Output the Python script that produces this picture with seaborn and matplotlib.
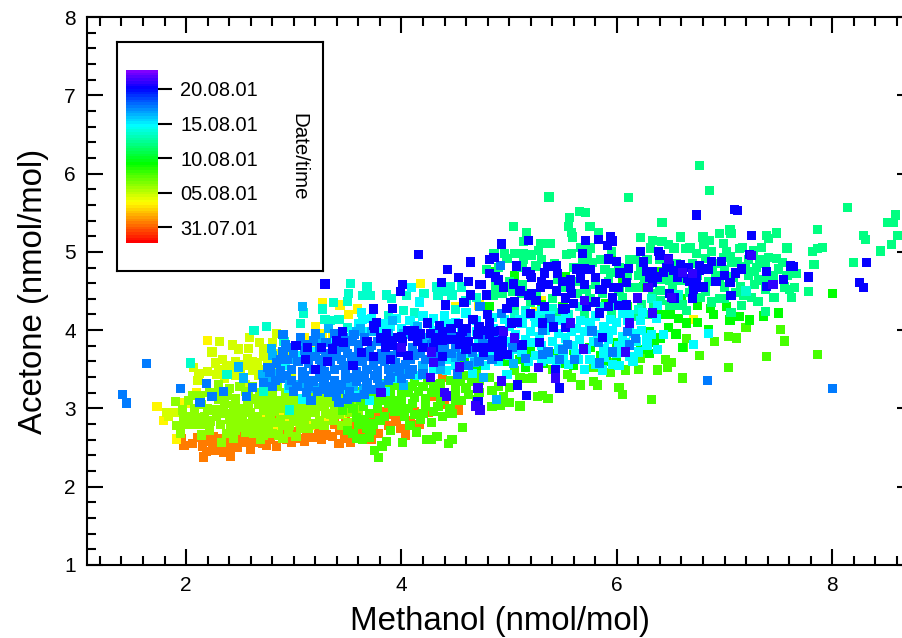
import numpy as np
import pandas as pd
import matplotlib
matplotlib.use("Agg")
import matplotlib.pyplot as plt
import seaborn as sns
from matplotlib.colors import LinearSegmentedColormap, Normalize
from matplotlib.cm import ScalarMappable
from matplotlib.ticker import MultipleLocator

sns.set_theme(style="white")
plt.rcParams['font.family'] = ['Liberation Sans', 'DejaVu Sans']

# days after 31.07.01, (methanol, acetone)
orange = [(1.96,2.61),(1.98,2.53),(2.16,2.38),(2.19,2.45),(2.41,2.39),(2.11,2.63),(2.25,2.64),(2.25,2.55),(2.27,2.47),
    (2.39,2.5),(2.48,2.5),(2.55,2.56),(2.64,2.56),(2.71,2.55),(2.53,2.65),(2.7,2.63),(2.87,2.87),(2.89,2.78),(3.06,2.62),
    (3.42,2.55),(3.53,2.57),(4.04,2.66),(3.99,2.74),(3.79,2.68),(4.17,2.79),(4.53,2.98),(4.31,3.15),(4.38,3.4),(4.55,3.4),
    (3.92,2.92),(3.85,2.96),(3.64,2.72),(3.43,2.72),(3.23,2.72),(2.2,2.58),(2.31,2.62),(2.35,2.44),(2.45,2.57),(2.6,2.48),
    (2.78,2.6),(2.84,2.52),(2.93,2.6),(3.0,2.7),(3.12,2.68),(3.3,2.66),(3.38,2.8),(3.55,2.78),(3.7,2.85),(3.78,2.9),
    (3.95,2.83),(4.08,2.85),(4.25,2.95),(4.4,3.05),(3.1,2.58),(2.06,2.55),(2.15,2.52),(3.6,2.92),(3.48,2.88),
    (2.22,2.67),(2.3,2.52),(2.37,2.58),(2.42,2.66),(2.5,2.61),(2.58,2.62),(2.66,2.66),(2.75,2.53),(2.81,2.65),(2.9,2.68),
    (2.98,2.56),(3.18,2.63),(3.26,2.6),(3.36,2.64),(3.47,2.62),(3.6,2.67),(3.72,2.6),(3.88,2.78),(4.0,2.9),(4.12,2.96)]
yellow = [(2.2,3.87),(1.73,3.02),(1.79,2.85),(1.91,2.61),(1.99,3.07),(2.1,3.2),(3.27,4.35),(3.2,4.04),(3.27,3.96),(3.36,3.94),
    (3.43,4.32),(3.51,4.2),(3.59,4.27),(4.18,4.6),(6.71,4.14),(2.72,2.86),(2.82,2.72),(2.95,2.85),(3.05,2.82),(3.15,2.78),
    (3.3,2.88),(3.45,2.92),(2.62,2.78),(2.9,2.95),(3.1,3.9),(3.18,3.78),(4.5,4.3),(4.72,4.32),(5.3,4.38),(5.25,4.24)]
yellow_green = [(2.31,3.85),(2.43,3.81),(2.49,3.76),(2.58,3.77),(2.24,3.72),(2.59,3.91),(2.68,3.84),(2.84,3.96),(2.72,3.67),
    (2.57,3.64),(2.62,3.6),(2.27,3.58),(2.34,3.63),(2.38,3.55),(2.43,3.53),(2.07,3.52),(2.12,3.45),(2.11,3.36),(2.87,3.7),
    (2.76,3.56),(2.62,3.48),(1.82,2.95),(1.9,2.95),(1.84,2.9),(2.3,3.5),(2.5,3.47),(2.58,3.55),(2.67,3.42),(2.84,3.5),
    (2.92,3.62),(2.98,3.72),(2.46,3.42),(2.36,3.38),(2.76,3.32),(2.55,3.3),(2.98,3.42),(2.46,3.6),(2.52,3.56),(2.66,3.58),
    (2.7,3.5),(2.8,3.62),(2.42,3.46),(2.28,3.43),(2.2,3.47),(2.72,3.76),(2.8,3.84)]
lime = [(1.9,3.09),(1.97,2.98),(2.08,3.0),(1.91,2.78),(1.99,2.79),(2.07,2.8),(2.15,2.79),(2.1,2.88),(2.17,2.9),(2.23,2.84),
    (2.32,2.79),(2.41,2.79),(2.14,2.66),(2.33,2.56),(2.44,2.62),(2.13,3.17),(2.22,3.2),(2.2,3.0),(2.36,3.07),(2.33,2.94),
    (2.42,2.93),(2.28,2.9),(2.48,2.88),(2.55,2.8),(2.66,2.75),(2.69,2.6),(2.7,2.83),(2.78,2.92),(2.86,2.66),(2.95,2.7),
    (2.5,3.0),(2.6,2.95),(2.67,3.05),(2.75,3.02),(2.85,3.1),(2.93,3.03),(3.02,2.96),(3.1,3.03),(3.2,2.95),(3.28,3.02),
    (3.38,2.98),(3.46,3.05),(2.46,3.12),(2.58,3.15),(2.68,3.2),(2.8,3.18),(2.92,3.2),(3.04,3.12),(3.16,3.14),(3.28,3.12),
    (3.02,2.83),(3.12,2.9),(3.24,2.85),(3.37,2.85),(2.63,2.68),(2.76,2.72),(2.82,2.82),(2.95,2.92),(2.4,3.25),(2.5,3.28),
    (2.3,3.3),(2.85,3.28),(2.98,3.26),(3.12,3.22),(1.98,2.9),(2.02,3.1),(2.55,2.7),(2.9,2.62),(3.02,2.64),(3.14,2.74),
    (1.95,2.68),(3.5,2.82),(3.6,2.98),(3.55,3.1),(2.72,2.98),(3.4,3.18),
    (2.26,2.98),(2.3,3.12),(2.38,3.17),(2.44,3.03),(2.52,2.92),(2.57,3.07),(2.62,2.86),(2.64,3.12),(2.72,3.1),(2.78,2.82),
    (2.8,3.08),(2.88,3.0),(2.9,2.78),(2.98,3.1),(3.04,3.04),(3.08,2.86),(3.13,2.96),(3.17,3.06),(3.22,3.1),(3.3,2.94),
    (3.34,3.08),(3.42,2.92),(3.48,3.14),(3.52,2.95),(2.4,2.86),(2.46,2.72),(2.5,2.84),(2.58,2.76),(2.66,2.9),(2.74,2.78),
    (2.82,2.96),(2.96,2.78),(3.06,2.74),(3.1,2.8),(3.2,2.8),(3.28,2.78),(3.34,2.92),(2.38,2.68),(2.52,2.76),(2.22,2.72),
    (2.06,2.9),(2.14,3.05),(2.06,3.17),(2.28,3.2),(2.55,3.22),(2.62,3.28),(2.75,3.26),(2.92,3.12),(3.2,3.02),(3.36,3.14),
    (2.8,2.68),(2.72,2.66),(3.0,2.9),(3.44,2.78),(2.35,2.98),(2.46,2.96),(2.58,3.0),(2.88,2.86),(3.06,2.92),(3.14,3.1)]
green_lime = [(3.79,2.37),(3.75,2.46),(3.82,2.52),(3.86,2.58),(3.64,2.61),(3.58,2.62),(3.7,2.63),(4.01,2.56),(4.14,2.7),(4.23,2.6),
    (4.28,2.6),(4.33,2.64),(4.47,2.6),(4.44,2.55),(4.57,2.76),(3.5,2.72),(3.55,2.68),(3.68,2.74),(3.74,2.8),(3.9,2.72),
    (3.45,2.98),(3.55,3.0),(3.66,2.86),(3.65,3.02),(3.78,3.0),(3.88,3.06),(3.98,2.98),(4.06,3.0),(4.12,2.92),(4.22,3.02),
    (4.3,2.96),(4.12,3.14),(4.0,3.1),(3.9,3.18),(4.22,3.12),(4.36,3.1),(4.45,3.0),(4.44,3.16),(4.56,3.1),(4.62,3.18),
    (4.7,3.11),(4.84,3.23),(4.92,3.04),(5.0,3.08),(5.1,3.03),(5.26,3.15),(5.31,3.17),(5.36,3.13),(5.0,3.27),(5.1,3.39),
    (5.22,3.39),(5.18,3.38),(5.54,3.43),(5.58,3.4),(5.66,3.3),(5.78,3.34),(5.82,3.3),(6.02,3.27),(6.05,3.18),(6.32,3.11),
    (6.61,3.39),(6.38,3.49),(6.2,3.5),(6.08,3.49),(5.94,3.46),(5.78,3.52),(5.96,3.59),(6.22,3.64),(6.45,3.62),(6.51,3.59),
    (6.47,3.52),(6.77,3.68),(7.04,3.52),(7.39,3.66),(7.86,3.69),(7.56,3.86),(7.52,4.01),(7.2,4.03),(7.11,3.9),(7.04,3.92),
    (6.91,3.85),(6.65,3.89),(6.62,3.78),(4.6,3.42),(4.72,3.36),(4.82,3.4),(4.9,3.28),(4.84,3.02),(5.05,3.48),(5.4,3.5),
    (4.2,3.28),(4.3,3.3),(4.1,3.28),(3.96,3.3),(3.84,3.32),(4.5,3.3),(3.72,3.12),(3.62,3.22),(3.8,2.85),(4.95,3.15),
    (3.58,2.88),(3.7,2.94),(3.84,2.9),(3.94,2.96),(4.03,2.9),(4.18,2.86),(4.28,2.82),(4.38,2.9),(4.47,2.94),(3.52,3.06),
    (3.62,3.1),(3.8,3.1),(3.94,3.1),(4.06,3.2),(4.16,3.22),(4.28,3.2),(4.36,3.2),(4.5,3.2),(4.6,3.26),(4.72,3.2),
    (3.68,3.2),(3.78,3.22),(3.88,3.26),(4.0,3.22),(4.12,3.34),(4.24,3.36),(4.36,3.32),(4.46,3.36),(4.55,3.34),(4.7,3.44),
    (3.92,3.0),(4.1,3.06),(4.34,3.02),(4.5,3.1),(4.08,2.78),(3.72,2.72),(3.6,2.8),(4.2,2.94),(3.86,3.12),(4.65,3.34)]
green = [(6.61,3.78),(6.65,4.09),(6.57,4.15),(6.48,4.03),(6.28,3.78),(6.35,3.84),(6.22,3.75),(6.0,3.84),(6.85,4.01),(7.05,4.13),
    (7.23,4.13),(7.14,4.17),(7.36,4.18),(7.5,4.22),(6.87,4.28),(8.0,4.47),(6.65,4.09),(6.9,4.2),(7.02,4.3),(6.75,4.32),
    (5.2,3.72),(5.42,3.7),(5.6,3.74),(5.75,3.78),(5.1,3.62),(4.96,3.6),(5.85,3.68),(6.05,3.72),(6.3,3.98),(6.42,4.2),
    (5.3,4.32),(5.5,4.3),(5.9,4.34),(6.1,4.3),(4.82,4.3),(4.7,3.55),(4.58,3.58),(5.6,3.55),(5.9,3.6),(6.6,4.4),
    (4.86,4.75),(5.05,4.7),(5.3,4.62),(5.52,4.68),(5.95,4.9),(6.05,4.62),(6.25,4.55),(6.4,4.75),
    (5.15,3.52),(5.32,3.58),(5.5,3.58),(5.75,3.62),(6.0,3.62),(6.3,3.7),(6.4,3.9),(6.55,3.95),(6.5,4.2),(6.75,4.1)]
spring = [(6.77,6.1),(6.86,5.78),(8.14,5.57),(7.86,5.29),(8.51,5.37),(8.59,5.47),(8.57,5.38),(8.29,5.21),(8.31,5.16),(8.61,5.21),
    (8.55,5.09),(8.45,5.01),(8.2,4.86),(7.91,5.06),(7.86,5.04),(7.82,5.0),(7.83,4.84),(7.78,4.49),(7.58,5.05),(7.48,5.24),
    (7.39,5.21),(7.41,5.17),(7.05,5.28),(7.06,5.23),(6.95,5.23),(6.8,5.19),(6.86,5.15),(6.99,5.11),(6.81,5.09),(6.64,5.04),
    (6.68,5.05),(6.74,4.98),(6.88,5.0),(7.14,5.04),(7.17,5.06),(7.34,5.06),(7.27,5.02),(7.41,4.93),(7.48,4.92),(7.54,4.86),
    (7.33,4.9),(6.99,4.93),(7.05,4.94),(7.12,4.87),(7.07,4.86),(7.19,4.81),(6.89,4.77),(7.0,4.77),(7.67,4.72),(7.63,4.73),
    (7.3,4.8),(7.45,4.7),(7.41,4.67),(7.32,4.64),(7.56,4.55),(7.6,4.52),(7.65,4.54),(7.62,4.42),(7.46,4.42),(7.31,4.37),
    (7.25,4.42),(7.16,4.31),(7.06,4.23),(7.38,4.24),(5.37,5.7),(6.11,5.69),(5.04,5.32),(5.16,5.25),(5.56,5.44),(5.65,5.52),
    (5.71,5.5),(5.55,5.32),(5.75,5.32),(5.58,5.25),(5.59,5.19),(5.83,5.25),(6.42,5.37),(6.22,5.18),(6.33,5.15),(6.59,5.19),
    (6.42,5.13),(6.48,5.09),(6.53,5.05),(6.64,5.04),(5.38,5.11),(5.29,5.11),(5.13,5.13),(5.27,5.02),(5.21,4.96),(5.13,4.98),
    (5.05,4.98),(4.96,4.98),(4.86,4.98),(4.98,4.92),(5.13,4.9),(4.79,4.77),(5.25,4.82),(5.53,4.97),(5.58,4.98),(5.73,4.98),
    (5.68,4.9),(5.77,4.86),(5.66,5.06),(5.75,5.05),(5.7,5.0),(6.31,5.05),(6.17,4.9),(6.12,4.9),(6.22,4.79),(6.2,4.7),
    (6.26,4.65),(6.42,4.65),(6.49,4.64),(6.59,4.63),(5.89,4.77),(5.94,4.74),(6.12,4.54),(6.19,4.54),(6.4,4.51),(6.33,4.47),
    (6.49,4.32),(6.61,4.32),(6.55,4.32),(6.34,4.32),(6.23,4.32),(4.94,4.47),(4.85,4.45),(5.12,4.47),(5.63,4.47),(5.87,4.47),
    (5.03,4.5),(4.87,4.55),(5.12,4.58),(6.7,4.6),(6.82,4.5),(6.95,4.62),(6.65,4.25),(6.3,4.2),(6.15,4.18),(5.95,4.2),
    (5.7,4.2),(5.45,4.22),(5.2,4.35),(5.05,4.3),(5.4,4.4),(5.75,4.4),(6.05,4.42),(6.75,4.7),(7.1,4.48),(6.95,4.4),
    (5.2,4.75),(5.42,4.85),(5.6,4.8),(5.95,5.0),(6.02,4.8),(6.4,4.9),(6.55,4.85),(6.7,4.85),
    (6.85,4.62),(6.92,4.7),(7.0,4.55),(7.08,4.68),(7.15,4.56),(7.22,4.7),(7.28,4.58),(7.38,4.52),(6.78,4.42),(6.88,4.36),
    (7.0,4.4),(7.18,4.45),(6.96,4.85),(7.02,5.0),(7.22,4.9),(7.28,4.75),(7.38,4.85),(7.5,4.78),(7.58,4.7),(6.82,4.92),
    (5.5,4.55),(5.62,4.62),(5.8,4.58),(5.92,4.62),(6.1,4.7),(6.3,4.6),(6.52,4.55),(6.02,4.5),(5.72,4.52),(5.25,4.45),
    (5.3,4.9),(5.45,4.65),(5.0,4.62),(4.9,4.8),(5.12,4.8),(5.85,4.9),(6.28,4.9),(6.5,4.72),(6.68,4.48),(6.4,4.38)]
teal = [(3.53,4.6),(3.68,4.55),(3.51,4.47),(3.71,4.44),(3.64,4.44),(3.5,4.37),(3.86,4.45),(3.91,4.4),(4.05,4.44),(4.21,4.47),
    (3.37,4.35),(3.27,4.27),(3.09,4.22),(3.06,4.08),(3.29,4.14),(3.34,4.12),(3.42,4.14),(3.5,4.03),(4.33,4.55),(4.34,4.45),
    (4.56,4.55),(4.47,4.45),(4.5,4.26),(2.63,4.0),(2.75,4.05),(2.04,3.58),(2.38,3.43),(2.91,3.85),(2.96,2.98),(4.38,4.5),
    (4.6,4.38),(4.02,4.25),(3.88,4.18),(4.12,4.22),(6.57,4.45),(7.2,4.5),(6.32,4.4),(5.55,4.2),(5.3,4.18),(5.05,4.2),
    (4.7,4.42),(3.1,3.3),(2.72,3.22),(4.45,4.55),(5.85,4.3),(6.0,4.32),(6.2,4.26),(5.65,4.3),(5.4,4.28),(5.15,4.25)]
cyan = [(4.09,4.54),(4.17,4.36),(3.63,4.23),(6.85,3.96),(6.71,3.82),(4.98,3.43),(5.87,3.49),(6.38,3.75),(6.43,3.94),(6.32,3.94),
    (6.23,4.0),(6.37,4.15),(6.24,4.23),(6.38,4.31),(4.66,3.45),(4.78,3.55),(4.9,3.6),(5.0,3.68),(5.12,3.72),(5.25,3.68),
    (5.38,3.62),(5.5,3.66),(5.62,3.7),(5.75,3.62),(5.88,3.65),(6.0,3.7),(6.12,3.66),(4.62,3.7),(4.75,3.72),(4.88,3.78),
    (5.02,3.85),(5.15,3.88),(5.28,3.92),(5.4,3.85),(5.52,3.9),(5.65,3.88),(5.78,3.85),(5.92,3.88),(6.05,3.92),(6.18,3.85),
    (6.28,3.8),(4.55,3.92),(4.7,3.98),(4.85,4.02),(5.0,4.05),(5.12,4.08),(5.25,4.1),(5.38,4.05),(5.5,4.12),(5.62,4.02),
    (5.75,4.1),(5.88,4.05),(6.0,4.1),(6.12,4.02),(6.22,4.12),(5.15,4.2),(5.3,4.25),(5.45,4.12),(5.7,3.98),(5.9,3.95),
    (4.4,4.18),(4.5,4.1),(4.6,4.22),(4.3,4.15),(4.2,4.18),(4.08,4.12),(3.95,4.15),(3.85,4.08),(3.72,4.15),(3.6,4.08),
    (3.55,3.98),(3.68,3.98),(3.82,4.0),(4.0,4.02),(4.15,3.98),(4.3,4.0),(4.45,4.0),(3.48,3.9),(3.38,3.88),(3.2,3.72),
    (3.05,3.68),(2.92,3.55),(2.82,3.42),(4.45,3.62),(4.55,3.75),(4.42,3.48),(3.7,3.1),(3.6,3.18),(3.85,3.22),(3.95,3.38),
    (2.95,3.25),(3.08,3.12),(3.5,3.18),(4.15,3.42),(4.3,3.5),(4.5,3.55),(5.55,3.56),(5.7,3.5),(6.02,3.55),(6.15,3.6),(6.05,4.22),
    (4.72,3.86),(4.82,3.9),(4.94,3.95),(5.06,3.94),(5.2,3.98),(5.34,4.0),(5.46,3.96),(5.58,3.98),(5.82,3.94),(5.96,4.0),
    (6.1,4.12),(6.16,3.96),(6.28,3.9),(6.02,3.8),(5.88,3.76),(5.72,3.75),(5.6,3.8),(5.46,3.76),(5.3,3.8),(5.2,3.84),
    (5.08,3.76),(4.95,3.84),(4.84,3.68),(4.7,3.64),(5.18,3.6),(5.3,3.6),(5.44,3.58),(5.64,3.62),(5.8,3.56),(5.96,3.56),
    (6.08,3.84),(6.2,3.72),(5.1,4.14),(5.24,4.18),(5.38,4.18),(5.52,4.22),(5.66,4.12),(5.8,4.18),(5.94,4.14),(6.12,4.2),
    (4.96,4.14),(4.84,4.16),(4.7,4.12),(4.56,4.02),(4.42,4.08),(4.26,4.08),(4.12,4.06),(3.9,4.05),(3.78,4.08),(3.64,4.14)]
sky = [(3.08,4.3),(2.79,3.77),(2.8,3.68),(2.71,3.43),(2.76,3.4),(2.49,3.53),(2.53,3.39),(3.32,4.02),(3.58,3.98),(3.62,4.02),
    (4.02,3.3),(3.65,3.25),(3.55,3.28),(3.8,3.3),(3.9,3.45),(4.05,3.5),(3.5,3.3),(2.96,3.3),(3.05,3.3),(3.2,3.26),
    (4.2,3.55),(4.36,3.5),(4.5,3.65),(4.76,3.4),(4.88,3.11),(5.04,3.57),(4.68,3.59),(4.3,3.95),(4.15,4.05),(3.92,4.12),
    (3.42,3.96),(3.72,3.98),(3.88,3.95),(4.02,3.95),(4.22,3.9),(4.5,3.85),(3.25,3.9),(3.1,3.82),(2.98,3.62),(2.86,3.45)]
azure = [(1.41,3.18),(1.45,3.07),(1.63,3.57),(2.19,3.32),(1.95,3.25),(2.13,3.08),(2.24,3.15),(2.35,3.22),(2.56,3.15),(2.62,3.27),
    (2.9,3.94),(6.84,3.36),(8.0,3.25),(5.03,3.78),(5.15,3.64),(5.31,3.69),(5.36,3.72),(5.47,3.63),(5.61,3.62),(5.84,3.58),
    (5.5,3.75),(5.54,3.82),(5.83,3.84),(5.77,3.99),(6.1,3.98),(6.17,3.89),(5.96,3.72),(6.12,3.81),(4.93,4.21),(4.73,4.3),
    (4.92,4.83),(5.38,4.15),(5.31,4.0),(2.72,3.33),(2.8,3.28),(2.88,3.38),(2.98,3.36),(3.08,3.38),(3.18,3.35),(3.28,3.32),
    (3.38,3.36),(3.48,3.38),(3.58,3.35),(3.68,3.33),(3.78,3.38),(3.88,3.36),(2.78,3.46),(2.88,3.48),(2.98,3.5),(3.08,3.47),
    (3.18,3.5),(3.28,3.47),(3.38,3.5),(3.48,3.48),(3.58,3.47),(3.68,3.5),(3.78,3.48),(3.88,3.5),(3.98,3.47),(4.08,3.44),
    (2.84,3.58),(2.94,3.62),(3.04,3.6),(3.14,3.58),(3.24,3.62),(3.34,3.6),(3.44,3.62),(3.54,3.58),(3.64,3.6),(3.74,3.55),
    (3.84,3.6),(3.94,3.58),(4.04,3.56),(2.9,3.72),(3.0,3.7),(3.1,3.74),(3.2,3.66),(3.3,3.7),(3.4,3.72),(3.5,3.7),
    (3.6,3.74),(3.7,3.72),(3.82,3.7),(3.92,3.68),(4.12,3.68),(4.22,3.62),(3.0,3.22),(3.12,3.2),(3.22,3.22),(3.32,3.2),
    (3.42,3.24),(3.52,3.22),(3.66,3.18),(3.74,3.24),(3.16,3.1),(3.42,3.08),(3.5,3.12),(3.3,3.84),(3.42,3.82),(3.54,3.86),
    (3.66,3.9),(3.18,3.86),(3.06,3.9),(3.78,3.85),(3.88,3.8),(4.0,3.72),(4.1,3.78),(4.22,3.78),(4.34,3.78),(4.46,3.7),
    (4.56,3.66),(4.66,3.72),(4.76,3.68),(4.84,3.62),(4.92,3.72),(4.62,3.55),(4.72,3.6),(4.52,3.44),(4.36,3.6),(4.76,3.82),
    (3.38,3.96),(3.2,3.95),(4.3,3.88),(4.46,3.9),(4.6,3.95),(4.75,3.88),(4.88,3.92),(2.92,3.82),(3.6,3.42),(3.75,3.42),(3.3,3.42),(3.1,3.42),
    (2.76,3.52),(2.83,3.36),(2.93,3.42),(3.03,3.28),(3.14,3.3),(3.24,3.4),(3.34,3.28),(3.44,3.3),(3.54,3.4),(3.66,3.4),
    (3.8,3.28),(3.9,3.4),(4.0,3.38),(4.1,3.5),(4.2,3.44),(2.88,3.62),(2.98,3.78),(3.12,3.66),(3.26,3.55),(3.36,3.66),
    (3.46,3.55),(3.56,3.66),(3.66,3.66),(3.76,3.62),(3.86,3.68),(3.96,3.52),(4.08,3.62),(4.18,3.7),(4.3,3.68),(4.4,3.72),
    (3.12,3.82),(3.24,3.76),(3.36,3.78),(3.48,3.78),(3.6,3.82),(3.72,3.8),(3.84,3.85),(3.96,3.78),(4.16,3.85),(4.28,3.82),
    (4.5,3.78),(4.62,3.82),(4.4,3.82),(3.56,3.94),(3.46,3.9),(3.14,3.28),(3.28,3.24),(3.4,3.16),(3.58,3.14),(3.68,3.28)]
blue = [(6.74,5.47),(7.09,5.54),(7.12,5.53),(7.25,5.21),(7.23,4.97),(6.88,4.88),(6.97,4.88),(6.77,4.83),(7.1,4.73),(7.16,4.78),
    (7.39,4.75),(7.61,4.82),(7.64,4.81),(7.78,4.68),(7.55,4.65),(7.45,4.58),(7.39,4.56),(7.05,4.61),(7.06,4.44),(6.71,4.52),
    (6.7,4.4),(6.8,4.55),(6.74,4.64),(6.66,4.66),(6.66,4.8),(6.6,4.76),(6.77,4.76),(8.32,4.86),(8.25,4.61),(8.29,4.54),
    (4.93,5.1),(5.18,5.15),(5.71,5.15),(5.83,5.16),(5.94,5.19),(5.96,5.14),(5.91,5.08),(5.68,4.98),(5.92,4.91),(6.0,4.88),
    (6.22,5.0),(6.39,5.0),(6.4,4.96),(6.48,4.92),(6.25,4.87),(6.49,4.83),(6.59,4.84),(6.43,4.74),(6.53,4.76),(6.61,4.73),
    (6.28,4.75),(6.33,4.75),(6.11,4.79),(6.03,4.73),(6.09,4.61),(6.33,4.61),(6.29,4.54),(6.49,4.47),(6.53,4.41),(6.19,4.41),
    (5.97,4.54),(6.01,4.54),(5.84,4.52),(5.87,4.52),(5.75,4.77),(5.7,4.78),(5.63,4.78),(5.8,4.67),(5.7,4.58),(5.57,4.64),
    (5.57,4.55),(5.58,4.47),(5.52,4.41),(5.52,4.28),(5.5,4.27),(5.44,4.5),(5.36,4.58),(5.29,4.54),(5.21,4.47),(5.18,4.44),
    (5.33,4.3),(5.05,4.36),(5.01,4.35),(4.79,4.45),(4.74,4.58),(4.9,4.64),(4.87,4.68),(5.04,4.59),(5.21,4.67),(5.2,4.71),
    (5.16,4.75),(5.33,4.73),(5.36,4.81),(5.44,4.82),(5.45,4.72),(5.07,4.82),(4.82,4.9),(4.86,4.93),(4.64,4.87),(5.7,4.38),
    (5.8,4.36),(5.72,4.3),(5.84,4.22),(5.96,4.41),(6.02,4.31),(6.09,4.32),(6.33,4.22),(6.12,4.09),(5.87,3.91),(5.69,3.76),
    (6.08,3.72),(5.57,4.09),(5.52,4.03),(5.41,4.04),(5.31,4.09),(5.2,4.21),(5.08,4.1),(5.02,4.09),(4.67,4.14),(4.82,4.1),
    (4.72,4.04),(4.92,4.0),(4.71,3.94),(4.94,3.87),(4.94,3.78),(4.71,3.78),(4.8,3.78),(4.98,3.69),(5.12,3.81),(5.28,3.84),
    (5.27,3.52),(5.43,3.49),(5.43,3.39),(5.47,3.26),(5.08,3.3),(4.93,3.35),(5.16,3.17),(4.71,3.25),(4.71,3.09),(5.05,3.9),
    (3.29,4.59),(4.01,4.58),(3.99,4.49),(3.92,4.28),(3.74,4.27),(4.37,4.61),(4.53,4.67),(4.43,4.77),(4.64,4.45),(4.41,4.32),
    (4.58,4.35),(4.73,4.58),(3.45,3.98),(3.77,4.1),(3.74,4.06),(3.81,3.9),(3.68,3.85),(3.63,3.71),(3.74,3.66),(3.4,3.86),
    (3.46,3.84),(3.36,3.76),(3.26,3.78),(3.13,3.78),(3.02,3.8),(3.11,3.63),(3.31,3.6),(4.24,4.09),(4.35,4.06),(4.06,4.0),
    (3.96,3.91),(4.15,3.85),(4.27,3.96),(4.38,3.98),(4.01,3.85),(3.92,3.81),(4.06,3.68),(3.99,3.72),(4.28,3.72),(4.38,3.87),
    (4.38,3.66),(4.53,4.08),(4.66,4.14),(4.57,3.99),(4.71,3.94),(4.62,3.85),(4.7,3.78),(4.54,3.82),(4.16,4.97),(3.75,4.02),
    (4.1,3.92),(4.2,3.78),(3.85,3.78),(3.2,3.5),(3.55,3.55),(3.9,3.62),(4.18,3.95),(4.46,3.88),(4.82,3.95),(4.85,3.85),
    (3.86,3.95),(4.0,3.92),(4.12,4.0),(3.9,3.86),(4.32,3.9),(4.46,4.02),(4.6,4.02),(4.78,4.0),(4.86,3.78),(4.6,3.76),
    (4.76,3.72),(4.9,3.66),(6.38,4.68),(6.56,4.68),(6.68,4.62),(6.85,4.78),(6.92,4.62),(7.0,4.7),(6.46,4.8),(6.3,4.68),
    (5.9,4.6),(5.66,4.66),(5.5,4.62),(5.3,4.62),(5.1,4.5),(4.95,4.55),(4.98,4.28),(5.25,4.38),(5.6,4.34),(5.92,4.3),
    (4.85,3.98),(4.55,3.92),(4.3,3.78),(4.8,4.2),(4.62,4.62),(4.82,4.72)]
indigo = [(5.27,3.52),(4.3,3.59),(4.54,3.53),(4.27,3.4),(4.71,3.26),(3.81,3.2),(4.4,3.2),(4.42,3.16),(4.69,3.03),(4.73,2.98),
    (5.05,3.9),(5.69,3.76),(6.08,3.72),(5.57,4.09),(6.12,4.09),(6.33,4.22),(6.19,4.41),(6.29,4.54),(4.95,3.98),(5.7,4.38),
    (6.51,4.42),(6.61,4.74),(6.7,4.72),(5.43,3.39),(4.93,3.35),(6.48,4.9),(7.25,4.95),(7.45,4.58),(4.0,3.78),(4.28,3.72)]

group_points = [orange, yellow, yellow_green, lime, green_lime, green, spring, teal, cyan, sky, azure, blue, indigo]
group_days = [0.6, 3.5, 4.7, 6.3, 7.7, 9.4, 12.0, 13.4, 14.7, 16.2, 17.4, 20.2, 21.0]
date_ticks = [0, 5, 10, 15, 20]
date_labels = ['31.07.01', '05.08.01', '10.08.01', '15.08.01', '20.08.01']

rows = []
for pts, day in zip(group_points, group_days):
    for m, a in pts:
        rows.append((m, a, day))
df = pd.DataFrame(rows, columns=['Methanol', 'Acetone', 'Day'])

W, H = 902, 638
def px_rect(x0, y0, x1, y1):
    return [x0 / W, 1 - y1 / H, (x1 - x0) / W, (y1 - y0) / H]

rainbow = LinearSegmentedColormap.from_list('dates', [(0, '#ff0000'), (0.23, '#ffff00'), (0.46, '#00ff00'),
                                                     (0.68, '#00ffff'), (0.90, '#0000ff'), (1, '#8000ff')], N=64)
norm = Normalize(-2.3, 22.75)

fig = plt.figure(figsize=(W / 100, H / 100), dpi=100)
ax = fig.add_axes(px_rect(87, 17, 913, 565))
sns.scatterplot(data=df, x='Methanol', y='Acetone', hue='Day', palette=rainbow, hue_norm=norm,
                marker='s', s=44, linewidth=0, legend=False, ax=ax)
ax.set_xlim(1.08, 8.75)
ax.set_ylim(1, 8)
ax.xaxis.set_major_locator(MultipleLocator(2))
ax.xaxis.set_minor_locator(MultipleLocator(0.2))
ax.yaxis.set_major_locator(MultipleLocator(1))
ax.yaxis.set_minor_locator(MultipleLocator(0.2))
ax.tick_params(which='major', direction='in', length=11.5, width=1.5, top=True, right=True, bottom=True, left=True,
               labelsize=15, color='black', labelcolor='black', pad=8)
ax.tick_params(which='minor', direction='in', length=6.3, width=1.5, top=True, right=True, bottom=True, left=True, color='black')
for sp in ax.spines.values():
    sp.set_linewidth(1.5)
    sp.set_color('black')
ax.set_xlabel('Methanol (nmol/mol)', fontsize=23.8, color='black', labelpad=8)
ax.set_ylabel('Acetone (nmol/mol)', fontsize=23.8, color='black', labelpad=11)

box = fig.add_axes(px_rect(117, 42, 323, 271), facecolor='white')
box.set_xticks([])
box.set_yticks([])
for sp in box.spines.values():
    sp.set_linewidth(1.5)
    sp.set_color('black')

cax = fig.add_axes(px_rect(126, 70, 158, 243))
cb = fig.colorbar(ScalarMappable(norm=norm, cmap=rainbow), cax=cax, ticks=date_ticks)
cb.ax.set_yticklabels(date_labels)
cb.outline.set_visible(False)
cb.ax.tick_params(length=10, width=1.5, labelsize=14.4, color='black', labelcolor='black', pad=6)
fig.text(299 / W, 1 - 157 / H, 'Date/time', rotation=-90, ha='center', va='center', fontsize=14.8, color='black')

fig.savefig('out.png', dpi=100)
